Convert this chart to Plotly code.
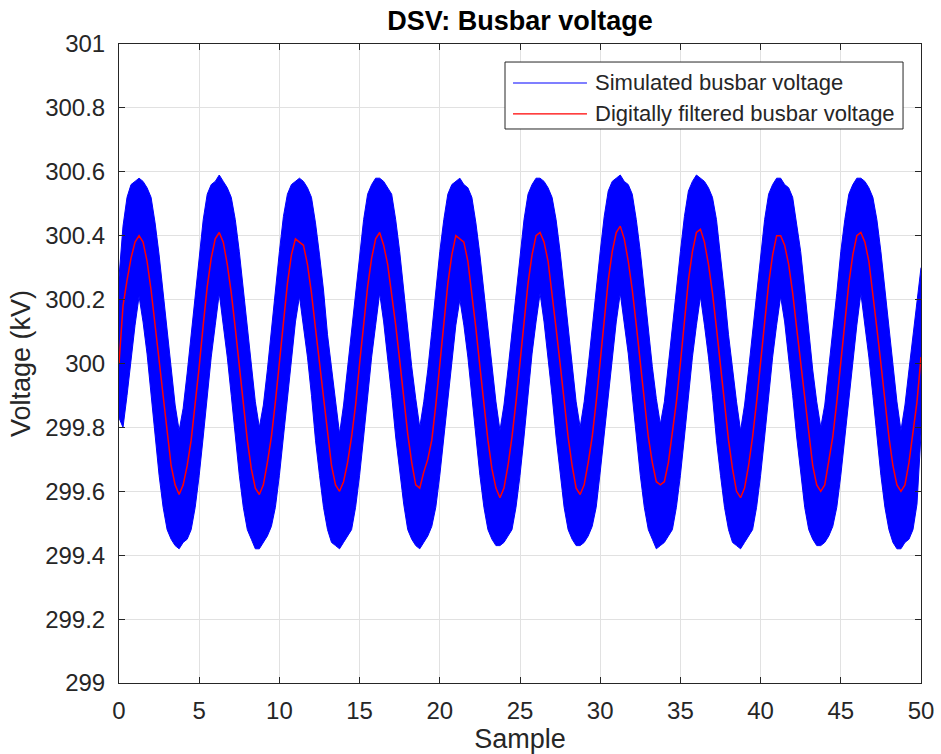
import plotly.graph_objects as go

# ---------------- data ----------------
sample_step = 0.25
n_points = 201
sample = [i * sample_step for i in range(n_points)]

# digitally filtered busbar voltage (kV), one row per 5-sample cycle
filtered_kv = [
    300.00, 300.18, 300.26, 300.33, 300.38, 300.40, 300.38, 300.32, 300.23, 300.12,
    300.00, 299.88, 299.77, 299.68, 299.62, 299.59, 299.62, 299.68, 299.76, 299.87,
    299.99, 300.12, 300.24, 300.33, 300.39, 300.41, 300.38, 300.31, 300.22, 300.11,
    299.99, 299.87, 299.76, 299.67, 299.61, 299.59, 299.62, 299.69, 299.77, 299.88,
    300.00, 300.13, 300.25, 300.34, 300.39, 300.38, 300.37, 300.31, 300.22, 300.11,
    300.00, 299.88, 299.77, 299.68, 299.62, 299.60, 299.63, 299.69, 299.77, 299.87,
    300.00, 300.12, 300.24, 300.33, 300.39, 300.41, 300.37, 300.31, 300.22, 300.12,
    300.01, 299.89, 299.78, 299.69, 299.62, 299.61, 299.66, 299.70, 299.76, 299.87,
    300.00, 300.13, 300.25, 300.34, 300.40, 300.39, 300.38, 300.32, 300.22, 300.11,
    299.99, 299.87, 299.76, 299.67, 299.61, 299.58, 299.61, 299.68, 299.77, 299.88,
    300.00, 300.13, 300.25, 300.34, 300.40, 300.41, 300.38, 300.32, 300.22, 300.11,
    300.00, 299.88, 299.77, 299.68, 299.61, 299.59, 299.62, 299.69, 299.77, 299.88,
    300.00, 300.14, 300.26, 300.35, 300.41, 300.43, 300.39, 300.32, 300.23, 300.12,
    300.00, 299.88, 299.77, 299.69, 299.63, 299.62, 299.63, 299.69, 299.78, 299.88,
    300.00, 300.13, 300.26, 300.35, 300.41, 300.42, 300.38, 300.31, 300.22, 300.11,
    299.99, 299.87, 299.76, 299.67, 299.60, 299.58, 299.61, 299.68, 299.77, 299.88,
    300.00, 300.13, 300.25, 300.34, 300.40, 300.40, 300.37, 300.31, 300.22, 300.11,
    300.00, 299.88, 299.77, 299.68, 299.62, 299.60, 299.62, 299.69, 299.77, 299.88,
    300.00, 300.13, 300.25, 300.34, 300.40, 300.41, 300.38, 300.32, 300.22, 300.11,
    300.00, 299.88, 299.77, 299.68, 299.62, 299.60, 299.62, 299.69, 299.78, 299.88,
    300.02,
]

# simulated busbar voltage: upper and lower edge of the noisy band (kV)
simulated_upper_kv = [
    300.27, 300.43, 300.52, 300.56, 300.57, 300.58, 300.57, 300.55, 300.52, 300.44,
    300.34, 300.22, 300.10, 299.98, 299.87, 299.79, 299.86, 299.97, 300.09, 300.22,
    300.34, 300.45, 300.53, 300.56, 300.57, 300.59, 300.57, 300.55, 300.52, 300.45,
    300.35, 300.23, 300.10, 299.99, 299.88, 299.80, 299.87, 299.98, 300.11, 300.23,
    300.35, 300.46, 300.53, 300.56, 300.57, 300.58, 300.57, 300.55, 300.52, 300.44,
    300.34, 300.23, 300.09, 299.98, 299.88, 299.78, 299.87, 299.99, 300.10, 300.22,
    300.34, 300.45, 300.53, 300.56, 300.58, 300.58, 300.57, 300.55, 300.53, 300.45,
    300.35, 300.23, 300.10, 299.99, 299.89, 299.80, 299.88, 299.98, 300.10, 300.23,
    300.35, 300.45, 300.53, 300.56, 300.57, 300.58, 300.56, 300.55, 300.52, 300.44,
    300.34, 300.22, 300.10, 299.98, 299.88, 299.79, 299.87, 299.98, 300.10, 300.22,
    300.35, 300.45, 300.53, 300.56, 300.58, 300.58, 300.57, 300.55, 300.52, 300.45,
    300.35, 300.23, 300.10, 299.99, 299.88, 299.80, 299.88, 299.99, 300.10, 300.23,
    300.35, 300.46, 300.54, 300.57, 300.58, 300.59, 300.57, 300.56, 300.53, 300.45,
    300.35, 300.23, 300.10, 299.99, 299.89, 299.81, 299.88, 299.99, 300.11, 300.23,
    300.35, 300.46, 300.54, 300.57, 300.59, 300.58, 300.57, 300.55, 300.52, 300.45,
    300.34, 300.22, 300.09, 299.98, 299.88, 299.79, 299.87, 299.98, 300.10, 300.23,
    300.35, 300.45, 300.53, 300.56, 300.58, 300.58, 300.56, 300.55, 300.52, 300.44,
    300.35, 300.23, 300.10, 299.98, 299.88, 299.80, 299.87, 299.98, 300.10, 300.22,
    300.35, 300.45, 300.53, 300.56, 300.58, 300.58, 300.57, 300.55, 300.52, 300.45,
    300.35, 300.23, 300.10, 299.99, 299.88, 299.79, 299.87, 299.98, 300.09, 300.20,
    300.30,
]

simulated_lower_kv = [
    299.83, 299.80, 299.90, 300.02, 300.12, 300.21, 300.13, 300.03, 299.90, 299.77,
    299.65, 299.55, 299.48, 299.45, 299.43, 299.42, 299.44, 299.45, 299.48, 299.55,
    299.65, 299.77, 299.90, 300.02, 300.12, 300.22, 300.12, 300.02, 299.90, 299.77,
    299.65, 299.55, 299.48, 299.45, 299.42, 299.42, 299.44, 299.46, 299.49, 299.55,
    299.65, 299.77, 299.91, 300.03, 300.13, 300.21, 300.12, 300.02, 299.90, 299.76,
    299.65, 299.55, 299.48, 299.44, 299.43, 299.42, 299.44, 299.46, 299.48, 299.55,
    299.65, 299.77, 299.90, 300.02, 300.12, 300.22, 300.13, 300.02, 299.90, 299.77,
    299.66, 299.56, 299.48, 299.45, 299.43, 299.42, 299.44, 299.46, 299.49, 299.55,
    299.65, 299.77, 299.90, 300.02, 300.12, 300.20, 300.12, 300.02, 299.89, 299.76,
    299.65, 299.55, 299.48, 299.45, 299.43, 299.43, 299.44, 299.46, 299.48, 299.55,
    299.65, 299.77, 299.90, 300.03, 300.13, 300.22, 300.13, 300.02, 299.90, 299.77,
    299.65, 299.55, 299.48, 299.45, 299.43, 299.43, 299.44, 299.46, 299.49, 299.55,
    299.66, 299.78, 299.91, 300.03, 300.13, 300.22, 300.13, 300.03, 299.90, 299.77,
    299.65, 299.55, 299.48, 299.45, 299.42, 299.43, 299.44, 299.46, 299.48, 299.55,
    299.65, 299.77, 299.90, 300.02, 300.12, 300.21, 300.12, 300.02, 299.90, 299.76,
    299.65, 299.55, 299.48, 299.44, 299.43, 299.42, 299.44, 299.46, 299.48, 299.55,
    299.65, 299.77, 299.90, 300.02, 300.12, 300.21, 300.13, 300.02, 299.90, 299.77,
    299.65, 299.55, 299.48, 299.45, 299.43, 299.43, 299.44, 299.46, 299.49, 299.55,
    299.65, 299.77, 299.90, 300.02, 300.12, 300.22, 300.12, 300.02, 299.90, 299.77,
    299.65, 299.55, 299.48, 299.44, 299.42, 299.42, 299.44, 299.45, 299.48, 299.56,
    299.78,
]

x_tick_vals = [0, 5, 10, 15, 20, 25, 30, 35, 40, 45, 50]
x_tick_text = ["0", "5", "10", "15", "20", "25", "30", "35", "40", "45", "50"]
y_tick_vals = [299.0, 299.2, 299.4, 299.6, 299.8, 300.0, 300.2, 300.4, 300.6, 300.8, 301.0]
y_tick_text = ["299", "299.2", "299.4", "299.6", "299.8", "300", "300.2", "300.4", "300.6", "300.8", "301"]

series_names = ["Simulated busbar voltage", "Digitally filtered busbar voltage"]
title_text = "DSV: Busbar voltage"
x_title = "Sample"
y_title = "Voltage (kV)"

# ---------------- figure ----------------
BLUE = "#0000ff"
RED = "#ff0000"
AXIS = "#262626"
GRID = "#e1e1e1"
FONT = "Liberation Sans, Arial, sans-serif"
series_colors = [BLUE, RED]

fig = go.Figure()

fig.add_trace(go.Scatter(
    x=sample, y=simulated_upper_kv, mode="lines",
    line=dict(color=BLUE, width=1), showlegend=False, hoverinfo="skip",
    name=series_names[0],
))
fig.add_trace(go.Scatter(
    x=sample, y=simulated_lower_kv, mode="lines",
    line=dict(color=BLUE, width=1), fill="tonexty", fillcolor=BLUE,
    showlegend=False, hoverinfo="skip", name=series_names[0],
))
fig.add_trace(go.Scatter(
    x=sample, y=filtered_kv, mode="lines",
    line=dict(color=RED, width=1.5), name=series_names[1], showlegend=False,
))

axis_common = dict(
    showline=True, linecolor=AXIS, linewidth=1, mirror="ticks",
    ticks="inside", ticklen=6, tickcolor=AXIS, tickwidth=1,
    showgrid=True, gridcolor=GRID, gridwidth=1, zeroline=False,
    tickfont=dict(family=FONT, size=24, color=AXIS),
)

fig.update_xaxes(
    range=[0, 50], tickvals=x_tick_vals, ticktext=x_tick_text,
    title=dict(text=x_title, font=dict(family=FONT, size=27, color=AXIS), standoff=8),
    ticklabelstandoff=6,
    **axis_common,
)
fig.update_yaxes(
    range=[299, 301], tickvals=y_tick_vals, ticktext=y_tick_text,
    title=dict(text=y_title, font=dict(family=FONT, size=27, color=AXIS), standoff=6),
    ticklabelstandoff=8,
    **axis_common,
)

# MATLAB-style legend box (paper coordinates of the plot area)
leg_x0, leg_x1 = 0.4813, 0.9776
leg_y0, leg_y1 = 0.8670, 0.9718
leg_rows = [0.9390, 0.8905]
leg_line_x = (0.4913, 0.5835)
leg_text_x = 0.5910

shapes = [dict(
    type="rect", xref="paper", yref="paper",
    x0=leg_x0, x1=leg_x1, y0=leg_y0, y1=leg_y1,
    line=dict(color=AXIS, width=1), fillcolor="white", layer="above",
)]
annotations = []
for name, color, yrow in zip(series_names, series_colors, leg_rows):
    shapes.append(dict(
        type="line", xref="paper", yref="paper",
        x0=leg_line_x[0], x1=leg_line_x[1], y0=yrow, y1=yrow,
        line=dict(color=color, width=1.2), layer="above",
    ))
    annotations.append(dict(
        text=name, xref="paper", yref="paper", x=leg_text_x, y=yrow,
        xanchor="left", yanchor="middle", showarrow=False,
        font=dict(family=FONT, size=22, color=AXIS),
    ))

fig.update_layout(
    width=941, height=754,
    margin=dict(l=119, r=20, t=44, b=71, autoexpand=False),
    paper_bgcolor="white", plot_bgcolor="white",
    font=dict(family=FONT, color=AXIS),
    showlegend=False,
    title=dict(
        text="<b>" + title_text + "</b>", x=0.5, xref="paper", xanchor="center",
        y=1 - 21 / 754, yref="container", yanchor="middle",
        font=dict(family=FONT, size=27, color="#000000"),
    ),
    shapes=shapes,
    annotations=annotations,
)

fig.write_html("out.html")
